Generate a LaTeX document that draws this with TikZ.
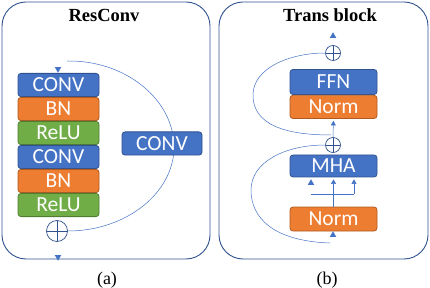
\documentclass[tikz,border=0pt]{standalone}
\usepackage{fontspec}
\setmainfont{Liberation Serif}
\newfontfamily\boxfont{Carlito}
\usetikzlibrary{arrows.meta,positioning,shapes.geometric,backgrounds}
\definecolor{convblue}{RGB}{68,114,196}
\definecolor{convedge}{RGB}{47,82,143}
\definecolor{bnorange}{RGB}{237,125,49}
\definecolor{bnedge}{RGB}{174,90,33}
\definecolor{relugreen}{RGB}{112,173,71}
\definecolor{reluedge}{RGB}{80,126,50}

\begin{document}
\begin{tikzpicture}[x=1pt,y=-1pt,>={Triangle[width=5pt,length=4.5pt]},
  layer/.style 2 args={draw=#2,fill=#1,line width=0.8pt,rounded corners=3pt,text=white,
    font=\boxfont\fontsize{21.5}{22}\selectfont,minimum width=81pt,minimum height=23.2pt,inner sep=0pt},
  convbox/.style={layer={convblue}{convedge}},
  bnbox/.style={layer={bnorange}{bnedge}},
  relubox/.style={layer={relugreen}{reluedge}},
  panel/.style={draw=convedge,line width=0.9pt,rounded corners=24pt},
  title/.style={font=\bfseries\fontsize{18.5}{20}\selectfont},
  caption/.style={font=\fontsize{18}{20}\selectfont},
  link/.style={convblue,line width=0.5pt},
  tipup/.style={regular polygon,regular polygon sides=3,fill=convblue,inner sep=0pt,minimum size=7.5pt},
  tipdown/.style={tipup,shape border rotate=180},
  sumnode/.style={circle,draw=convedge,line width=0.7pt,minimum size=#1,inner sep=0pt,
    path picture={\draw[convedge,line width=0.7pt]
      (path picture bounding box.north) -- (path picture bounding box.south)
      (path picture bounding box.west) -- (path picture bounding box.east);}}]
 \useasboundingbox (0,0) rectangle (430,288);
 % (a) ResConv
 \draw[panel] (2,2) rectangle (210,259);
 \node[title] (resT) at (104,15) {ResConv};
 \node[convbox] (conv1) at (58.5,85) {CONV};
 \node[bnbox,below=0pt of conv1] (bn1) {BN};
 \node[relubox,below=0pt of bn1] (relu1) {ReLU};
 \node[convbox,below=0pt of relu1] (conv2) {CONV};
 \node[bnbox,below=0pt of conv2] (bn2) {BN};
 \node[relubox,below=0pt of bn2] (relu2) {ReLU};
 \node[convbox,minimum width=80pt] (convS) at (162,143.5) {CONV};
 \node[sumnode=21pt] (plusA) at (57,231) {};
 \node[tipdown] (inA) at (58,69) {};
 \node[tipdown] (outA) at (58,257) {};
 \coordinate (skipA) at (67,61);
 \begin{scope}[on background layer]
  \draw[link] (skipA) .. controls (126,60) and (174,100) .. (174,147)
   .. controls (174,193) and (126,231) .. (plusA.east);
 \end{scope}
 \node[caption] (capA) at (107,280) {(a)};
 % (b) Trans block
 \draw[panel] (219,2) rectangle (428,259);
 \node[title] (transT) at (330,15) {Trans block};
 \node[convbox,minimum width=87pt,minimum height=25pt] (ffn) at (333.5,82) {FFN};
 \node[bnbox,minimum width=87pt,below=0pt of ffn] (normA) {Norm};
 \node[convbox,minimum width=87pt,minimum height=22pt] (mha) at (333.5,166) {MHA};
 \node[bnbox,minimum width=87pt,minimum height=24pt] (normB) at (333.5,219) {Norm};
 \node[sumnode=15pt] (plusB) at (333,53) {};
 \node[sumnode=15pt] (plusC) at (333,145) {};
 \node[tipup] (outB) at (333,36) {};
 \node[tipup] (inB) at (333,235) {};
 \node[tipup] (qB) at (311,183) {};
 \coordinate (kB) at (311,194);
 \coordinate (vB) at (354,194);
 \coordinate (tapA) at (331,135);
 \coordinate (tapB) at (330,243);
 \draw[link,->,shorten >=2pt] (plusC.north) -- (normA.south);
 \draw[link,->,shorten >=2pt] (normB.north) -- (mha.south);
 \draw[link] (kB) -- (vB);
 \draw[link,->,shorten >=2pt] (vB) -- (vB |- mha.south);
 \draw[link] (tapA) .. controls (272,135) and (253,118) .. (253,95)
  .. controls (253,68) and (290,53) .. (plusB.west);
 \draw[link] (tapB) .. controls (272,241) and (251,217) .. (251,190)
  .. controls (251,162) and (285,145) .. (plusC.west);
 \node[caption] (capB) at (327,280) {(b)};
\end{tikzpicture}
\end{document}
